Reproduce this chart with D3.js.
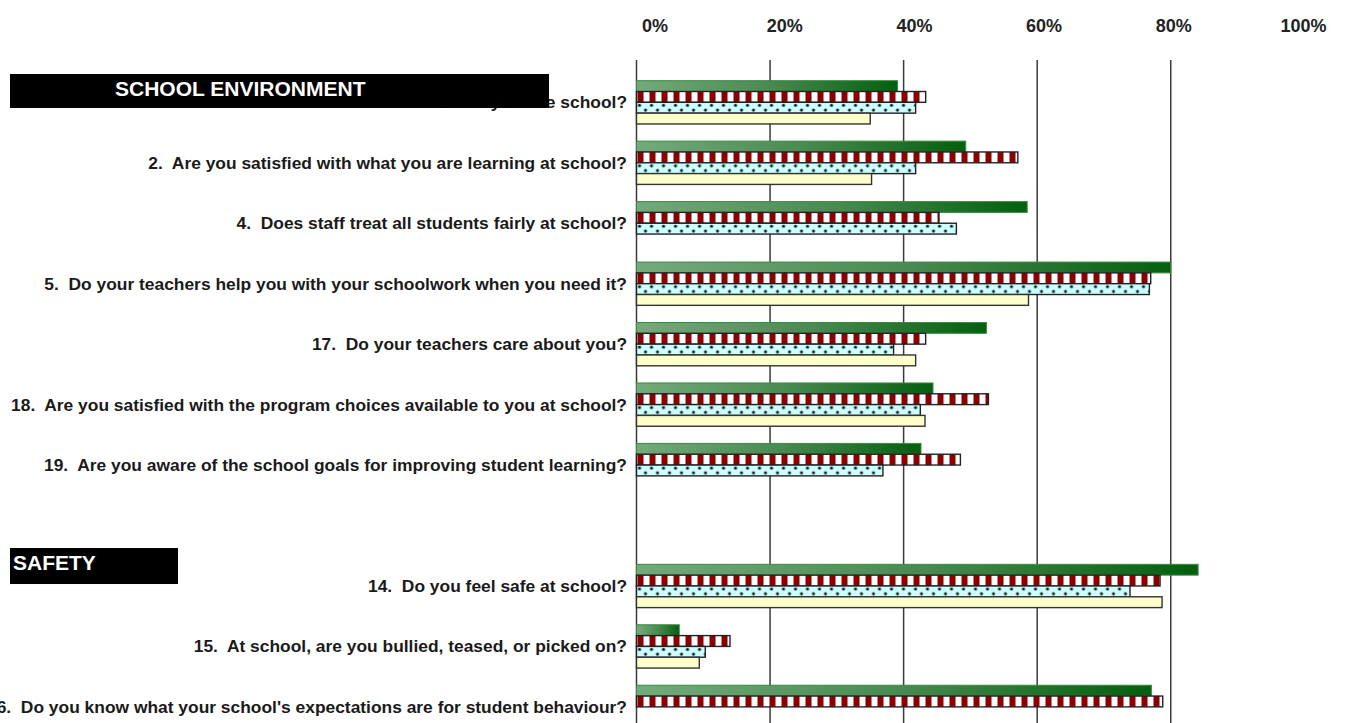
<!DOCTYPE html>
<html lang="en">
<head>
  <meta charset="utf-8">
  <title>School survey</title>
  <script src="https://d3js.org/d3.v7.min.js"></script>
  <style>
    body { margin: 0; background: #fff; }
  </style>
</head>
<body>
<script type="text/javascript">

var svg_width = 1346;
var svg_height = 723;

// questions, top to bottom ("" is the empty slot above the SAFETY block)
var categories = [
  "1.  Do you like school?",
  "2.  Are you satisfied with what you are learning at school?",
  "4.  Does staff treat all students fairly at school?",
  "5.  Do your teachers help you with your schoolwork when you need it?",
  "17.  Do your teachers care about you?",
  "18.  Are you satisfied with the program choices available to you at school?",
  "19.  Are you aware of the school goals for improving student learning?",
  "",
  "14.  Do you feel safe at school?",
  "15.  At school, are you bullied, teased, or picked on?",
  "16.  Do you know what your school's expectations are for student behaviour?"
];

var series = ["green", "red", "cyan", "yellow"];

// percent values
var greenValues  = [39.1, 49.3, 58.5, 80.0, 52.4, 44.4, 42.6, null, 84.1, 6.4, 77.1];
var redValues    = [43.3, 57.1, 45.3, 77.0, 43.3, 52.7, 48.5, null, 78.4, 14.0, 78.8];
var cyanValues   = [41.8, 41.8, 47.9, 76.8, 38.5, 42.5, 36.9, null, 73.9, 10.3, null];
var yellowValues = [35.0, 35.2, null, 58.7, 41.8, 43.2, null, null, 78.7, 9.4, null];

var gridValues = [0, 20, 40, 60, 80];
var tickLabels = [0, 20, 40, 60, 80, 100];

var sectionNames = ["SCHOOL ENVIRONMENT", "SAFETY"];

var valuesBySeries = {
  green: greenValues,
  red: redValues,
  cyan: cyanValues,
  yellow: yellowValues
};

var rows = [];
categories.forEach(function(c, i) {
  series.forEach(function(s) {
    var v = valuesBySeries[s][i];
    if (v != null) rows.push({ cat: c, series: s, value: v });
  });
});

var font = "'Liberation Sans', Arial, sans-serif";

var svg = d3.select("body")
  .append("svg")
  .attr("width", svg_width)
  .attr("height", svg_height);

var x = d3.scaleLinear().domain([0, 100]).range([636.5, 1304.3]);
// tick labels in the original sit on a slightly narrower spacing than the grid
var xLabel = d3.scaleLinear().domain([0, 100]).range([655, 1303.5]);

var y = d3.scaleBand()
  .domain(categories)
  .range([72.1, 737.1])
  .paddingInner(0.284)
  .paddingOuter(0.142);

var ySub = d3.scaleBand()
  .domain(series)
  .range([0, y.bandwidth()]);

// ---- patterns ----
var defs = svg.append("defs");

var grad = defs.append("linearGradient")
  .attr("id", "greenGrad")
  .attr("x1", 0).attr("x2", 1).attr("y1", 0).attr("y2", 0);
grad.append("stop").attr("offset", "0%").attr("stop-color", "#74aa7b");
grad.append("stop").attr("offset", "50%").attr("stop-color", "#4a8b52");
grad.append("stop").attr("offset", "100%").attr("stop-color", "#045f0e");

var stripe = defs.append("pattern")
  .attr("id", "redStripe")
  .attr("patternUnits", "userSpaceOnUse")
  .attr("x", x(0))
  .attr("width", 12).attr("height", 12);
stripe.append("rect").attr("width", 12).attr("height", 12).attr("fill", "#ffffff");
stripe.append("rect").attr("x", 1).attr("width", 6).attr("height", 12).attr("fill", "#8b0000");

// dot rows line up with the cyan bars, which sit at the same offset in every band
var step = y.step();
var cyanTop = (y(categories[0]) + ySub("cyan")) % step;
var dots = defs.append("pattern")
  .attr("id", "cyanDots")
  .attr("patternUnits", "userSpaceOnUse")
  .attr("x", x(0))
  .attr("width", 12).attr("height", step);
dots.append("rect").attr("width", 12).attr("height", step).attr("fill", "#ccffff");
dots.append("circle").attr("cx", 3).attr("cy", cyanTop + 3).attr("r", 1.5).attr("fill", "#111");
dots.append("circle").attr("cx", 9).attr("cy", cyanTop + 7.8).attr("r", 1.5).attr("fill", "#111");

var fills = { green: "url(#greenGrad)", red: "url(#redStripe)", cyan: "url(#cyanDots)", yellow: "#ffffcc" };
var strokes = { green: "#3b8a43", red: "#222", cyan: "#222", yellow: "#333" };

// ---- grid ----
svg.selectAll("line.grid")
  .data(gridValues)
  .enter()
    .append("line")
    .attr("class", "grid")
    .attr("x1", function(d) { return x(d); })
    .attr("x2", function(d) { return x(d); })
    .attr("y1", 60)
    .attr("y2", svg_height)
    .attr("stroke", "#3a3a3a")
    .attr("stroke-width", 1.5);

// ---- tick labels ----
svg.selectAll("text.tick")
  .data(tickLabels)
  .enter()
    .append("text")
    .attr("class", "tick")
    .attr("x", function(d) { return xLabel(d); })
    .attr("y", 32)
    .attr("text-anchor", "middle")
    .attr("font-family", font)
    .attr("font-weight", "bold")
    .attr("font-size", "18px")
    .attr("fill", "#222")
    .text(function(d) { return d + "%"; });

// ---- bars ----
svg.selectAll("rect.bar")
  .data(rows)
  .enter()
    .append("rect")
    .attr("class", "bar")
    .attr("x", x(0))
    .attr("y", function(d) { return y(d.cat) + ySub(d.series); })
    .attr("width", function(d) { return x(d.value) - x(0); })
    .attr("height", ySub.bandwidth())
    .attr("fill", function(d) { return fills[d.series]; })
    .attr("stroke", function(d) { return strokes[d.series]; })
    .attr("stroke-width", function(d) { return d.series == "green" ? 1 : 1.4; });

// ---- question labels ----
svg.selectAll("text.question")
  .data(categories.filter(function(c) { return c != ""; }))
  .enter()
    .append("text")
    .attr("class", "question")
    .attr("x", 627)
    .attr("y", function(d) { return y(d) + y.bandwidth() / 2 + 6; })
    .attr("text-anchor", "end")
    .style("white-space", "pre")
    .attr("font-family", font)
    .attr("font-weight", "bold")
    .attr("font-size", "17.4px")
    .attr("fill", "#1a1a1a")
    .text(function(d) { return d; });

// ---- section headers ----
var head1 = y(categories[0]) - 6.7;
svg.append("rect")
  .attr("x", 10).attr("y", head1)
  .attr("width", 539).attr("height", 34)
  .attr("fill", "#000");
svg.append("text")
  .attr("x", 115).attr("y", head1 + 22)
  .attr("font-family", font)
  .attr("font-weight", "bold")
  .attr("font-size", "21px")
  .attr("fill", "#fff")
  .text(sectionNames[0]);

var head2 = y(categories[8]) - 16.3;
svg.append("rect")
  .attr("x", 10).attr("y", head2)
  .attr("width", 168).attr("height", 36)
  .attr("fill", "#000");
svg.append("text")
  .attr("x", 13).attr("y", head2 + 22)
  .attr("font-family", font)
  .attr("font-weight", "bold")
  .attr("font-size", "21px")
  .attr("fill", "#fff")
  .text(sectionNames[1]);

</script>
</body>
</html>
